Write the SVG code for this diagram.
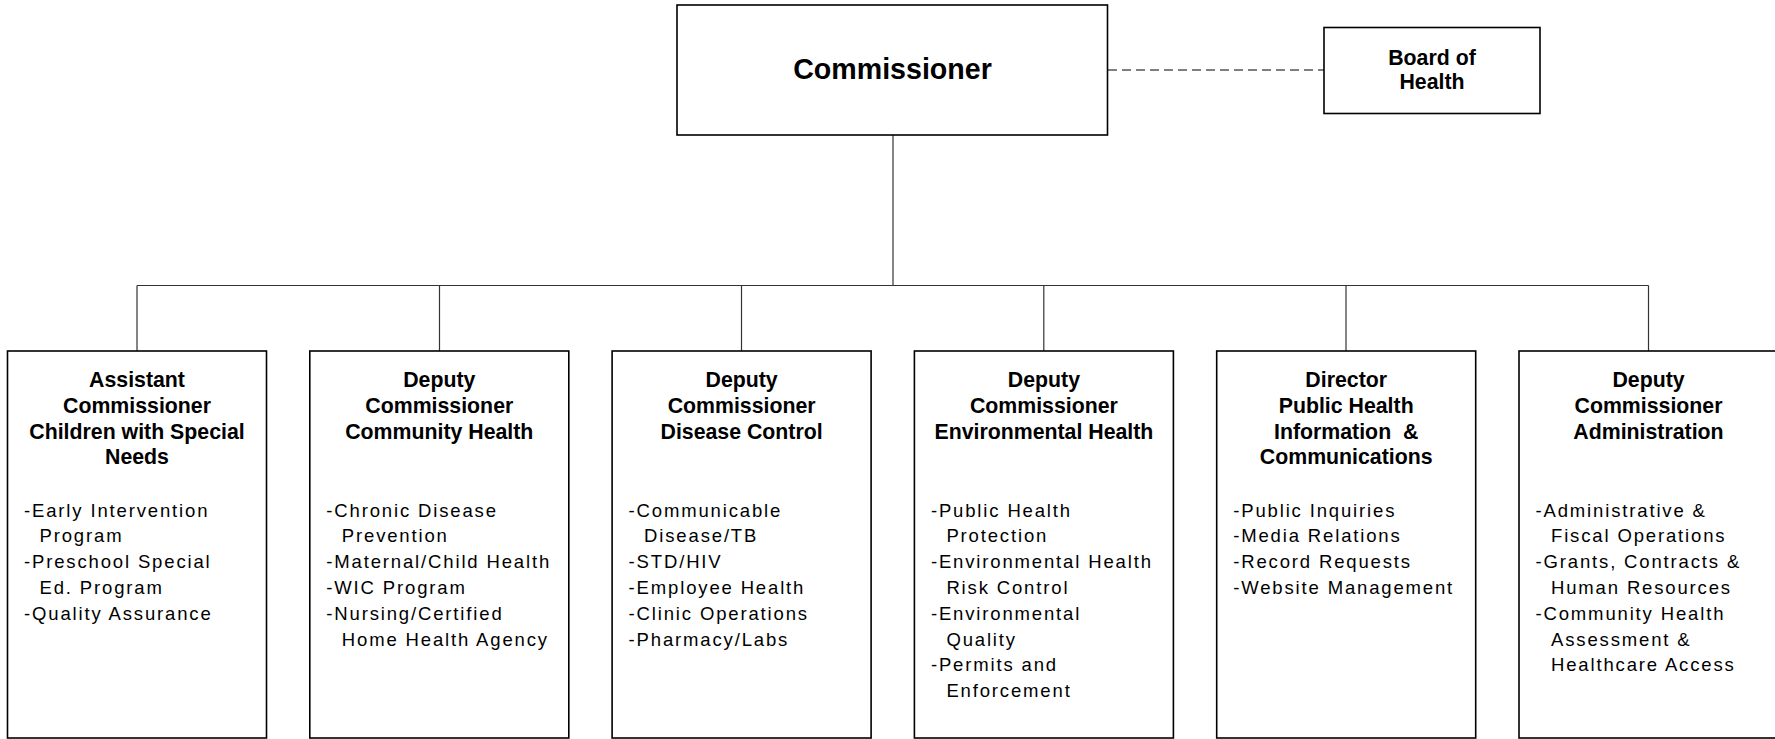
<svg xmlns="http://www.w3.org/2000/svg" width="1775" height="739" viewBox="0 0 1775 739">
<style>
.box{fill:#fff;stroke:#000;stroke-width:1.6}
.conn{fill:none;stroke:#333;stroke-width:1.2}
.dash{fill:none;stroke:#555;stroke-width:1.6;stroke-dasharray:9 5}
.t{font-family:"Liberation Sans",Arial,sans-serif;font-weight:bold;font-size:21.3px;fill:#000;text-anchor:middle}
.big{font-size:28.6px}
.l{font-family:"Liberation Sans",Arial,sans-serif;font-size:18.5px;letter-spacing:1.85px;fill:#000}
</style>
<rect width="1775" height="739" fill="#fff"/>
<g id="connectors">
<line class="dash" x1="1108" y1="70" x2="1324" y2="70"/>
<line class="conn" x1="893" y1="135" x2="893" y2="285.5"/>
<line class="conn" x1="137" y1="285.5" x2="1648.5" y2="285.5"/>
<line class="conn" x1="137" y1="285.5" x2="137" y2="351"/>
<line class="conn" x1="439.5" y1="285.5" x2="439.5" y2="351"/>
<line class="conn" x1="741.5" y1="285.5" x2="741.5" y2="351"/>
<line class="conn" x1="1043.8" y1="285.5" x2="1043.8" y2="351"/>
<line class="conn" x1="1346" y1="285.5" x2="1346" y2="351"/>
<line class="conn" x1="1648.5" y1="285.5" x2="1648.5" y2="351"/>
</g>
<g id="commissioner">
<rect class="box" x="677" y="5" width="430.5" height="130"/>
<text class="t big" x="892.5" y="78.5">Commissioner</text>
</g>
<g id="board">
<rect class="box" x="1324" y="27.5" width="216" height="86"/>
<text class="t" x="1432" y="64.5">Board of</text>
<text class="t" x="1432" y="88.5">Health</text>
</g>
<g id="n1">
<rect class="box" x="7.5" y="351" width="259" height="387"/>
<text class="t" x="137" y="386.7">Assistant</text>
<text class="t" x="137" y="412.6">Commissioner</text>
<text class="t" x="137" y="438.5">Children with Special</text>
<text class="t" x="137" y="464.4">Needs</text>
<text class="l" x="24" y="516.5">-Early Intervention</text>
<text class="l" x="39.5" y="542.3">Program</text>
<text class="l" x="24" y="568.1">-Preschool Special</text>
<text class="l" x="39.5" y="593.9">Ed. Program</text>
<text class="l" x="24" y="619.7">-Quality Assurance</text>
</g>
<g id="n2">
<rect class="box" x="309.8" y="351" width="259" height="387"/>
<text class="t" x="439.3" y="386.7">Deputy</text>
<text class="t" x="439.3" y="412.6">Commissioner</text>
<text class="t" x="439.3" y="438.5">Community Health</text>
<text class="l" x="326.3" y="516.5">-Chronic Disease</text>
<text class="l" x="341.8" y="542.3">Prevention</text>
<text class="l" x="326.3" y="568.1">-Maternal/Child Health</text>
<text class="l" x="326.3" y="593.9">-WIC Program</text>
<text class="l" x="326.3" y="619.7">-Nursing/Certified</text>
<text class="l" x="341.8" y="645.5">Home Health Agency</text>
</g>
<g id="n3">
<rect class="box" x="612.1" y="351" width="259" height="387"/>
<text class="t" x="741.6" y="386.7">Deputy</text>
<text class="t" x="741.6" y="412.6">Commissioner</text>
<text class="t" x="741.6" y="438.5">Disease Control</text>
<text class="l" x="628.6" y="516.5">-Communicable</text>
<text class="l" x="644.1" y="542.3">Disease/TB</text>
<text class="l" x="628.6" y="568.1">-STD/HIV</text>
<text class="l" x="628.6" y="593.9">-Employee Health</text>
<text class="l" x="628.6" y="619.7">-Clinic Operations</text>
<text class="l" x="628.6" y="645.5">-Pharmacy/Labs</text>
</g>
<g id="n4">
<rect class="box" x="914.4" y="351" width="259" height="387"/>
<text class="t" x="1043.9" y="386.7">Deputy</text>
<text class="t" x="1043.9" y="412.6">Commissioner</text>
<text class="t" x="1043.9" y="438.5">Environmental Health</text>
<text class="l" x="930.9" y="516.5">-Public Health</text>
<text class="l" x="946.4" y="542.3">Protection</text>
<text class="l" x="930.9" y="568.1">-Environmental Health</text>
<text class="l" x="946.4" y="593.9">Risk Control</text>
<text class="l" x="930.9" y="619.7">-Environmental</text>
<text class="l" x="946.4" y="645.5">Quality</text>
<text class="l" x="930.9" y="671.3">-Permits and</text>
<text class="l" x="946.4" y="697.1">Enforcement</text>
</g>
<g id="n5">
<rect class="box" x="1216.7" y="351" width="259" height="387"/>
<text class="t" x="1346.2" y="386.7">Director</text>
<text class="t" x="1346.2" y="412.6">Public Health</text>
<text class="t" x="1346.2" y="438.5" xml:space="preserve">Information  &amp;</text>
<text class="t" x="1346.2" y="464.4">Communications</text>
<text class="l" x="1233.2" y="516.5">-Public Inquiries</text>
<text class="l" x="1233.2" y="542.3">-Media Relations</text>
<text class="l" x="1233.2" y="568.1">-Record Requests</text>
<text class="l" x="1233.2" y="593.9">-Website Management</text>
</g>
<g id="n6">
<rect class="box" x="1519" y="351" width="259" height="387"/>
<text class="t" x="1648.5" y="386.7">Deputy</text>
<text class="t" x="1648.5" y="412.6">Commissioner</text>
<text class="t" x="1648.5" y="438.5">Administration</text>
<text class="l" x="1535.5" y="516.5">-Administrative &amp;</text>
<text class="l" x="1551" y="542.3">Fiscal Operations</text>
<text class="l" x="1535.5" y="568.1">-Grants, Contracts &amp;</text>
<text class="l" x="1551" y="593.9">Human Resources</text>
<text class="l" x="1535.5" y="619.7">-Community Health</text>
<text class="l" x="1551" y="645.5">Assessment &amp;</text>
<text class="l" x="1551" y="671.3">Healthcare Access</text>
</g>
</svg>
